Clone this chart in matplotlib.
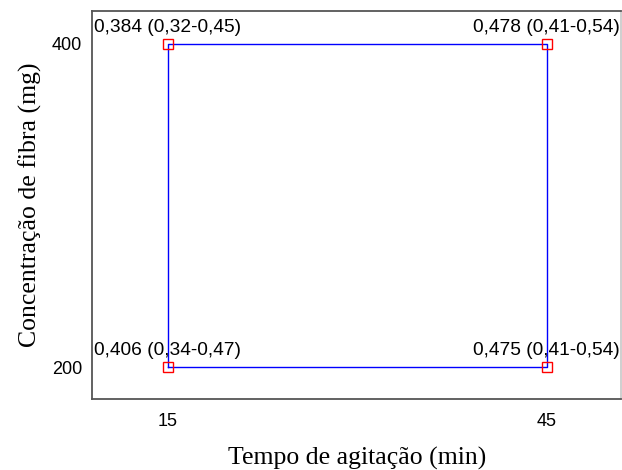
import matplotlib.pyplot as plt

# pontos do planejamento fatorial 2x2
tempo = [15, 15, 45, 45]
conc = [200, 400, 400, 200]
media = ['0,406', '0,384', '0,478', '0,475']
intervalo = ['0,34-0,47', '0,32-0,45', '0,41-0,54', '0,41-0,54']

fig = plt.figure(figsize=(6.22, 4.70), dpi=100)
ax = fig.add_axes([0.148, 0.151, 0.851, 0.826])

# contorno do quadrado ligando os vertices
x_lin = tempo + [tempo[0]]
y_lin = conc + [conc[0]]
ax.plot(x_lin, y_lin, color='#0000ff', lw=1.0, zorder=2)
ax.plot(tempo, conc, linestyle='none', marker='s', markersize=6.5,
        markerfacecolor='none', markeredgecolor='#ff0000', markeredgewidth=1.0, zorder=3)

for x, y, m, ic in zip(tempo, conc, media, intervalo):
    ax.annotate(f'{m} ({ic})', (x, y), xytext=(0, 12), textcoords='offset points',
                ha='center', va='center', fontsize=13.8, family='Liberation Sans')

ax.set_xlim(9, 50.9)
ax.set_ylim(180.2, 420.4)
ax.set_xticks([15, 45])
ax.set_yticks([200, 400])
ax.tick_params(length=0, labelsize=13)
ax.tick_params(axis='x', pad=10)
ax.tick_params(axis='y', pad=7)
for lab in ax.get_xticklabels() + ax.get_yticklabels():
    lab.set_family('Liberation Sans')

for s in ax.spines.values():
    s.set_color('#555555')
    s.set_linewidth(1.3)
ax.spines['right'].set_color('#cccccc')

ax.set_xlabel('Tempo de agitação (min)', fontsize=18.5, family='Liberation Serif', labelpad=12)
ax.set_ylabel('Concentração de fibra (mg)', fontsize=18.5, family='Liberation Serif', labelpad=7)

fig.savefig('out.png', dpi=100)
